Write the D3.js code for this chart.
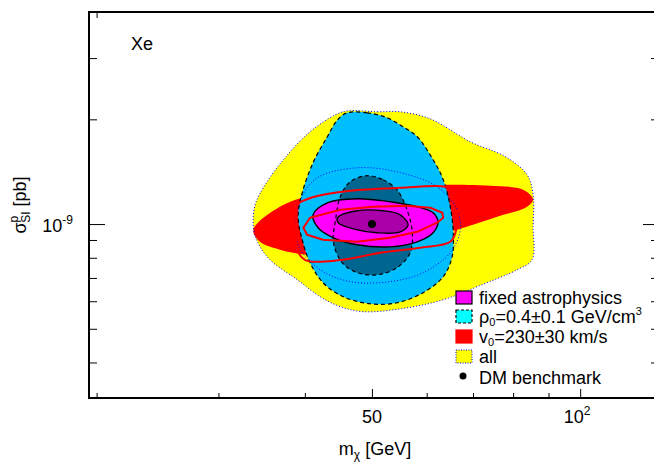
<!DOCTYPE html>
<html>
<head>
<meta charset="utf-8">
<script src="https://cdn.jsdelivr.net/npm/d3@7"></script>
<style>
  body { margin: 0; background: #fff; }
  svg { font-family: "Liberation Sans", Arial, sans-serif; }
</style>
</head>
<body>
<svg id="chart"></svg>
<script>
// contours: [m_chi (GeV), sigma_SI^p (pb)]
const allOuter = [[46.2,2.116e-9],[50.9,2.102e-9],[54.95,2.102e-9],[60.7,2.007e-9],[69.35,1.724e-9],[77.9,1.563e-9],[83.8,1.386e-9],[85.5,1.214e-9],[85.5,0.982e-9],[85.2,0.790e-9],[81.1,0.739e-9],[72.45,0.672e-9],[63.4,0.606e-9],[55.45,0.572e-9],[48.55,0.560e-9],[45.0,0.579e-9],[42.1,0.618e-9],[39.0,0.692e-9],[35.6,0.790e-9],[34.2,0.884e-9],[33.7,0.982e-9],[33.9,1.136e-9],[35.05,1.297e-9],[37.45,1.552e-9],[40.7,1.842e-9],[44.3,2.062e-9]];
const allInner = [[47.6,1.451e-9],[54.35,1.413e-9],[62.1,1.280e-9],[66.4,1.099e-9],[67.1,0.963e-9],[64.9,0.827e-9],[59.3,0.725e-9],[53.1,0.683e-9],[46.5,0.683e-9],[42.1,0.739e-9],[39.4,0.844e-9],[38.75,0.982e-9],[39.4,1.175e-9],[41.7,1.359e-9]];
const rhoOuter = [[46.05,2.088e-9],[49.2,2.088e-9],[52.6,2.021e-9],[55.45,1.904e-9],[58.15,1.782e-9],[61.3,1.530e-9],[63.4,1.341e-9],[64.9,1.121e-9],[65.55,0.944e-9],[65.3,0.805e-9],[63.4,0.706e-9],[59.3,0.635e-9],[54.35,0.594e-9],[49.7,0.590e-9],[45.45,0.618e-9],[42.5,0.678e-9],[40.7,0.774e-9],[39.65,0.901e-9],[39.1,1.049e-9],[39.65,1.230e-9],[41.1,1.500e-9],[43.1,1.782e-9],[44.6,1.994e-9]];
const rhoInner = [[49.2,1.377e-9],[51.9,1.341e-9],[54.35,1.255e-9],[56.2,1.099e-9],[57.2,0.944e-9],[56.8,0.827e-9],[54.35,0.749e-9],[50.9,0.715e-9],[47.6,0.725e-9],[45.3,0.774e-9],[44.0,0.884e-9],[44.3,1.029e-9],[45.0,1.198e-9],[46.5,1.323e-9]];
const v0Outer = [[33.7,0.963e-9],[36.8,1.121e-9],[41.1,1.214e-9],[48.55,1.280e-9],[60.7,1.297e-9],[74.1,1.288e-9],[82.7,1.255e-9],[85.5,1.175e-9],[83.8,1.121e-9],[75.85,1.049e-9],[66.4,0.963e-9],[57.4,0.884e-9],[50.2,0.827e-9],[45.0,0.805e-9],[40.3,0.816e-9],[36.8,0.844e-9],[34.45,0.889e-9]];
const v0Line1 = [[39.0,1.136e-9],[41.3,1.198e-9],[46.5,1.247e-9],[54.95,1.271e-9],[63.8,1.280e-9],[66.0,1.238e-9],[66.2,0.963e-9],[64.9,0.889e-9],[58.7,0.855e-9],[51.4,0.827e-9],[45.0,0.788e-9],[40.05,0.788e-9],[39.0,0.844e-9],[38.9,1.063e-9]];
const v0Line2 = [[39.8,0.976e-9],[40.7,1.043e-9],[45.0,1.099e-9],[50.2,1.121e-9],[56.2,1.129e-9],[60.7,1.114e-9],[63.2,1.078e-9],[63.4,1.043e-9],[62.1,1.009e-9],[58.15,0.950e-9],[53.1,0.913e-9],[47.6,0.889e-9],[42.5,0.901e-9],[40.3,0.932e-9]];
const fixedOuter = [[41.1,1.063e-9],[43.1,1.151e-9],[47.6,1.182e-9],[53.1,1.159e-9],[58.15,1.121e-9],[61.3,1.078e-9],[62.3,1.015e-9],[61.3,0.944e-9],[58.15,0.889e-9],[53.1,0.860e-9],[47.6,0.872e-9],[44.0,0.913e-9],[41.8,0.976e-9]];
const fixedInner = [[44.6,1.043e-9],[47.6,1.092e-9],[51.9,1.092e-9],[54.95,1.063e-9],[56.4,0.995e-9],[54.95,0.950e-9],[50.9,0.944e-9],[47.0,0.969e-9],[44.7,1.009e-9]];
const benchmark = [50, 1e-9];

const xMinor = [20, 30, 40, 60, 70, 80, 90];
const xMajor = [50, 100];
const yMinor = [4e-10, 5e-10, 6e-10, 7e-10, 8e-10, 9e-10, 2e-9, 3e-9];
const yMajor = [1e-9];
const legendLabels = ["fixed astrophysics", "rho", "v0", "all", "DM benchmark"];

const W = 654, H = 462;
const m = { left: 89, top: 12, right: 659, bottom: 398 };

const svg = d3.select("#chart").attr("width", W).attr("height", H);
svg.append("rect").attr("width", W).attr("height", H).attr("fill", "#fff");

// log scales
const x = d3.scaleLog().domain([19.5, 130]).range([m.left, m.right]);
const y = d3.scaleLog().domain([3.162e-10, 4.07e-9]).range([m.bottom, m.top]);

const smooth = d3.line().x(d => x(d[0])).y(d => y(d[1])).curve(d3.curveCatmullRomClosed.alpha(0.5));
const jagged = d3.line().x(d => x(d[0])).y(d => y(d[1])).curve(d3.curveLinearClosed);

const plot = svg.append("g");

// fills
plot.append("path").attr("d", smooth(allOuter)).attr("fill", "#ffff00");
plot.append("path").attr("d", smooth(v0Outer)).attr("fill", "#ff0000");
plot.append("path").attr("d", smooth(rhoOuter)).attr("fill", "#00bfff");
plot.append("path").attr("d", smooth(rhoInner)).attr("fill", "#006690");
plot.append("path").attr("d", smooth(fixedOuter)).attr("fill", "#ff00ff");
plot.append("path").attr("d", smooth(fixedInner)).attr("fill", "#aa00aa");

// outlines
plot.append("path").attr("d", smooth(allOuter)).attr("fill", "none")
    .attr("stroke", "#0000ff").attr("stroke-width", 1).attr("stroke-dasharray", "1,2");
plot.append("path").attr("d", smooth(allInner)).attr("fill", "none")
    .attr("stroke", "#0000ff").attr("stroke-width", 1).attr("stroke-dasharray", "1,2");
plot.append("path").attr("d", smooth(rhoOuter)).attr("fill", "none")
    .attr("stroke", "#000").attr("stroke-width", 1.2).attr("stroke-dasharray", "4,3");
plot.append("path").attr("d", smooth(rhoInner)).attr("fill", "none")
    .attr("stroke", "#000").attr("stroke-width", 1.2).attr("stroke-dasharray", "4,3");
plot.append("path").attr("d", smooth(fixedOuter)).attr("fill", "none")
    .attr("stroke", "#000").attr("stroke-width", 1.4);
plot.append("path").attr("d", smooth(fixedInner)).attr("fill", "none")
    .attr("stroke", "#000").attr("stroke-width", 1.4);
plot.append("path").attr("d", smooth(v0Line1)).attr("fill", "none")
    .attr("stroke", "#ff0000").attr("stroke-width", 2);
plot.append("path").attr("d", jagged(v0Line2)).attr("fill", "none")
    .attr("stroke", "#ff0000").attr("stroke-width", 2).attr("stroke-linejoin", "round");

plot.append("circle").attr("cx", x(benchmark[0])).attr("cy", y(benchmark[1]))
    .attr("r", 4).attr("fill", "#000");

// axes, ticks pointing inward
function addAxis(axis, tx, ty, vals, size) {
    const g = svg.append("g").attr("transform", `translate(${tx},${ty})`)
        .call(axis.tickValues(vals).tickSize(-size).tickFormat(""));
    g.select(".domain").remove();
    g.selectAll(".tick line").attr("stroke", "#000").attr("stroke-width", 1);
}
addAxis(d3.axisBottom(x), 0, m.bottom, xMinor, 5);
addAxis(d3.axisBottom(x), 0, m.bottom, xMajor, 9);
addAxis(d3.axisTop(x), 0, m.top, [20], 6);
addAxis(d3.axisLeft(y), m.left, 0, yMinor, 8);
addAxis(d3.axisLeft(y), m.left, 0, yMajor, 16);
addAxis(d3.axisRight(y), m.right, 0, yMinor, 8);
addAxis(d3.axisRight(y), m.right, 0, yMajor, 16);

svg.append("rect")
    .attr("x", m.left).attr("y", m.top)
    .attr("width", m.right - m.left).attr("height", m.bottom - m.top)
    .attr("fill", "none").attr("stroke", "#000").attr("stroke-width", 2);

// tick labels
svg.append("text").attr("x", x(50)).attr("y", 423).attr("text-anchor", "middle")
    .attr("font-size", 18).text("50");
const t100 = svg.append("text").attr("x", x(100) - 3).attr("y", 423).attr("text-anchor", "middle")
    .attr("font-size", 18);
t100.append("tspan").text("10");
t100.append("tspan").attr("font-size", 12).attr("dy", -8).text("2");

const t9 = svg.append("text").attr("x", 73).attr("y", y(1e-9) + 8).attr("text-anchor", "end")
    .attr("font-size", 18);
t9.append("tspan").text("10");
t9.append("tspan").attr("font-size", 12).attr("dy", -8).text("-9");

// axis titles
const xt = svg.append("text").attr("x", 375).attr("y", 455).attr("text-anchor", "middle")
    .attr("font-size", 18);
xt.append("tspan").text("m");
xt.append("tspan").attr("font-size", 12).attr("dy", 4).text("χ");
xt.append("tspan").attr("dy", -4).text(" [GeV]");

const yt = svg.append("text").attr("transform", "translate(26,205) rotate(-90)")
    .attr("text-anchor", "middle").attr("font-size", 18);
yt.append("tspan").text("σ");
yt.append("tspan").attr("font-size", 12).attr("dy", -8).text("p");
yt.append("tspan").attr("font-size", 12).attr("dx", -7).attr("dy", 12).text("SI");
yt.append("tspan").attr("dy", -4).text(" [pb]");

svg.append("text").attr("x", 131).attr("y", 50).attr("font-size", 18).text("Xe");

// legend
const lg = svg.append("g").attr("font-size", 18);
const rows = [298, 317, 337, 357, 378];
const boxX = 456, textX = 479;
lg.append("rect").attr("x", boxX).attr("y", rows[0] - 7).attr("width", 16).attr("height", 13)
    .attr("fill", "#ff00ff").attr("stroke", "#000").attr("stroke-width", 1.2);
lg.append("rect").attr("x", boxX).attr("y", rows[1] - 7).attr("width", 16).attr("height", 13)
    .attr("fill", "#00ffff").attr("stroke", "#000").attr("stroke-width", 1.2).attr("stroke-dasharray", "3,2");
lg.append("rect").attr("x", boxX).attr("y", rows[2] - 7).attr("width", 16).attr("height", 13)
    .attr("fill", "#ff0000").attr("stroke", "#ff0000").attr("stroke-width", 1.2);
lg.append("rect").attr("x", boxX).attr("y", rows[3] - 7).attr("width", 16).attr("height", 13)
    .attr("fill", "#ffff00").attr("stroke", "#0000ff").attr("stroke-width", 1).attr("stroke-dasharray", "1,1.5");
lg.append("circle").attr("cx", boxX + 7).attr("cy", rows[4] - 2).attr("r", 3.5).attr("fill", "#000");

lg.append("text").attr("x", textX).attr("y", rows[0] + 6).text(legendLabels[0]);
const r1 = lg.append("text").attr("x", textX).attr("y", rows[1] + 6);
r1.append("tspan").text("ρ");
r1.append("tspan").attr("font-size", 11).attr("dy", 3).text("0");
r1.append("tspan").attr("dy", -3).text("=0.4±0.1 GeV/cm");
r1.append("tspan").attr("font-size", 11).attr("dy", -8).text("3");
const r2 = lg.append("text").attr("x", textX).attr("y", rows[2] + 6);
r2.append("tspan").text("v");
r2.append("tspan").attr("font-size", 11).attr("dy", 3).text("0");
r2.append("tspan").attr("dy", -3).text("=230±30 km/s");
lg.append("text").attr("x", textX).attr("y", rows[3] + 6).text(legendLabels[3]);
lg.append("text").attr("x", textX).attr("y", rows[4] + 6).text(legendLabels[4]);
</script>
</body>
</html>
